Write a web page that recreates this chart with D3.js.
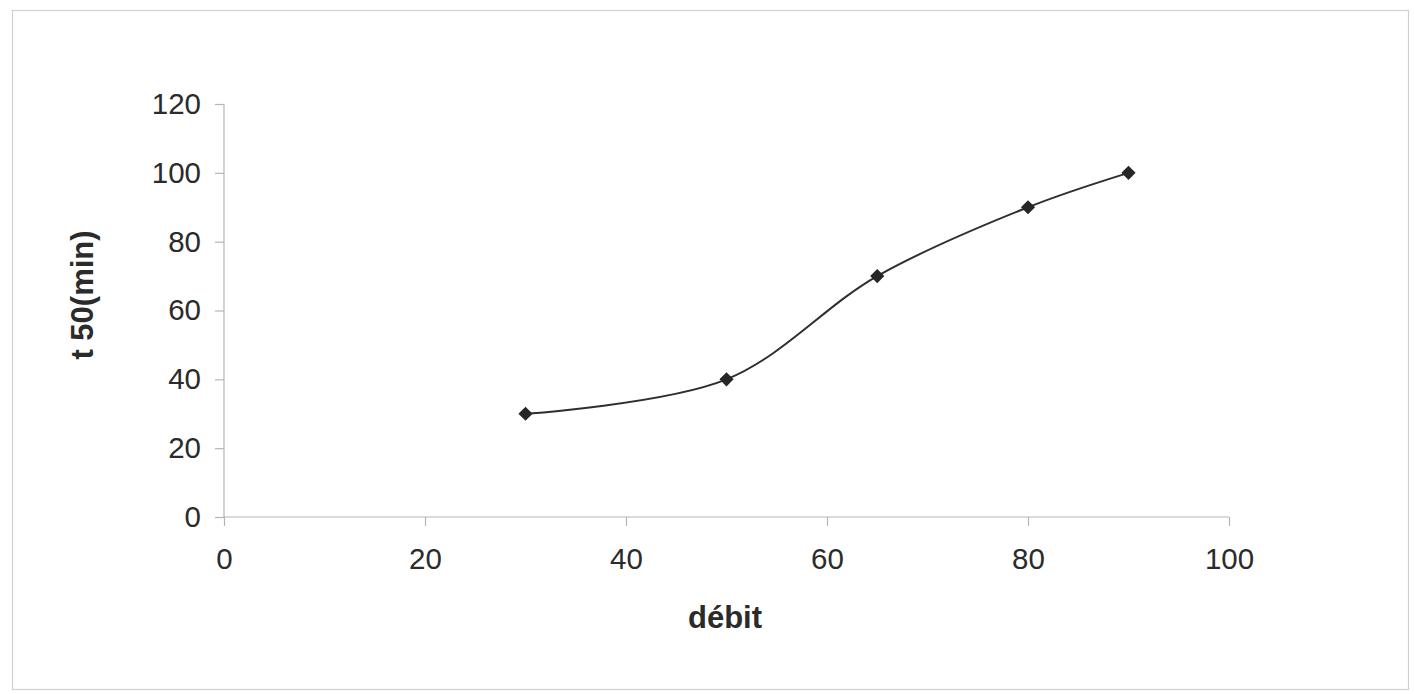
<!DOCTYPE html>
<html>
<head>
<meta charset="utf-8">
<script src="https://cdn.jsdelivr.net/npm/d3@7"></script>
<style>
  html, body { margin: 0; padding: 0; background: #fff; }
  svg { display: block; }
  text { font-family: "Liberation Sans", Arial, sans-serif; fill: #2b2b2b; }
</style>
</head>
<body>
<svg id="chart" width="1414" height="694"></svg>
<script>
// Flow rate (débit) vs t50 in minutes
const debit = [30, 50, 65, 80, 90];
const t50 = [30, 40, 70, 90, 100];
const xTicks = [0, 20, 40, 60, 80, 100];
const yTicks = [0, 20, 40, 60, 80, 100, 120];

const svg = d3.select("#chart");

// outer frame
svg.append("rect")
  .attr("x", 12.5).attr("y", 10.5)
  .attr("width", 1396).attr("height", 679)
  .attr("fill", "none").attr("stroke", "#cfcfcf").attr("stroke-width", 1.2);

const x = d3.scaleLinear().domain([0, 100]).range([224, 1229]);
const y = d3.scaleLinear().domain([0, 120]).range([517, 104]);

const axisColor = "#b5b5b5";

// y axis
const yAxis = svg.append("g").attr("transform", `translate(${x(0)},0)`)
  .call(d3.axisLeft(y).tickValues(yTicks).tickSize(9).tickPadding(14));
// x axis
const xAxis = svg.append("g").attr("transform", `translate(0,${y(0)})`)
  .call(d3.axisBottom(x).tickValues(xTicks).tickSize(9).tickPadding(22));

[yAxis, xAxis].forEach(g => {
  g.select(".domain").attr("stroke", axisColor).attr("stroke-width", 1.2);
  g.selectAll(".tick line").attr("stroke", axisColor).attr("stroke-width", 1.2);
  g.selectAll(".tick text")
    .style("font-family", "'Liberation Sans', Arial, sans-serif")
    .style("font-size", "29.5px")
    .attr("fill", "#2b2b2b");
});
xAxis.selectAll(".tick text").attr("dy", "0.71em");
xAxis.select(".domain").attr("d", `M${x(0)},0H${x(100)}`);
yAxis.select(".domain").attr("d", `M0,${y(0)}V${y(120)}`);

// axis titles
svg.append("text")
  .attr("x", 725).attr("y", 628)
  .attr("text-anchor", "middle")
  .style("font-size", "31px").style("font-weight", "bold")
  .text("débit");

svg.append("text")
  .attr("transform", "translate(93,295) rotate(-90)")
  .attr("text-anchor", "middle")
  .style("font-size", "31px").style("font-weight", "bold")
  .text("t 50(min)");

// smoothed line through the measurements
const pts = debit.map((d, i) => [d, t50[i]]);
const line = d3.line()
  .x(d => x(d[0])).y(d => y(d[1]))
  .curve(d3.curveCatmullRom.alpha(0.5));

svg.append("path")
  .attr("d", line(pts))
  .attr("fill", "none")
  .attr("stroke", "#2f2f2f")
  .attr("stroke-width", 2);

// diamond markers
svg.append("g").selectAll("path")
  .data(pts).join("path")
  .attr("transform", d => `translate(${x(d[0])},${y(d[1])}) rotate(45)`)
  .attr("d", d3.symbol().type(d3.symbolSquare).size(100)())
  .attr("fill", "#262626");
</script>
</body>
</html>
